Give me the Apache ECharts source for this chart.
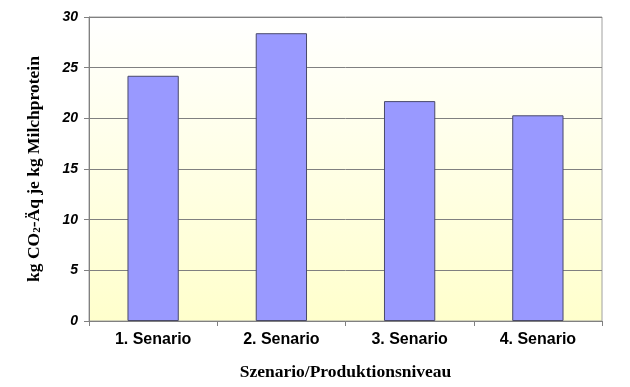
<!DOCTYPE html>
<html><head><meta charset="utf-8">
<script src="https://cdn.jsdelivr.net/npm/echarts@6/dist/echarts.min.js"></script>
<style>html,body{margin:0;padding:0;background:#fff}#c{width:630px;height:387px}</style>
</head><body><div id="c"></div>
<script>
const categories = ['1. Senario', '2. Senario', '3. Senario', '4. Senario'];
const values = [24.2, 28.4, 21.7, 20.3];
const yTicks = [0, 5, 10, 15, 20, 25, 30];

const chart = echarts.init(document.getElementById('c'), null, {renderer: 'canvas'});
chart.setOption({
  animation: false,
  backgroundColor: '#ffffff',
  grid: {
    left: 89, right: 28, top: 17, bottom: 66,
    show: true,
    borderColor: '#a0a0a0', borderWidth: 1,
    backgroundColor: new echarts.graphic.LinearGradient(0, 0, 0, 1, [
      {offset: 0, color: '#ffffff'},
      {offset: 1, color: '#ffffcc'}
    ])
  },
  xAxis: {
    type: 'category',
    data: categories,
    name: 'Szenario/Produktionsniveau',
    nameLocation: 'middle',
    nameGap: 42,
    nameTextStyle: {fontFamily: 'Liberation Serif', fontWeight: 'bold', fontSize: 17.5, color: '#000'},
    axisLine: {lineStyle: {color: '#808080', width: 1}},
    axisTick: {show: true, length: 5, lineStyle: {color: '#808080'}},
    axisLabel: {fontFamily: 'Liberation Sans', fontWeight: 'bold', fontSize: 16, color: '#000', margin: 11}
  },
  yAxis: {
    type: 'value',
    min: 0, max: 30, interval: 5,
    name: 'kg CO{sub|2}-Äq je kg Milchprotein',
    nameLocation: 'middle',
    nameGap: 46,
    nameTextStyle: {
      fontFamily: 'Liberation Serif', fontWeight: 'bold', fontSize: 17.5, color: '#000',
      rich: {sub: {fontFamily: 'Liberation Serif', fontWeight: 'bold', fontSize: 11, color: '#000', verticalAlign: 'bottom', padding: [7, 0, 0, 0]}}
    },
    axisLine: {show: true, lineStyle: {color: '#808080', width: 1}},
    axisTick: {show: true, length: 5, inside: false, lineStyle: {color: '#808080'}},
    axisLabel: {
      fontFamily: 'Liberation Sans', fontWeight: 'bold', fontStyle: 'italic', fontSize: 14, color: '#000', margin: 11,
      formatter: v => yTicks.includes(v) ? String(v) : ''
    },
    splitLine: {show: true, lineStyle: {color: '#808080', width: 1}}
  },
  series: [{
    type: 'bar',
    data: values,
    barWidth: '40%',
    itemStyle: {color: '#9999ff', borderColor: '#4a4a6a', borderWidth: 1}
  }]
});
</script></body></html>
